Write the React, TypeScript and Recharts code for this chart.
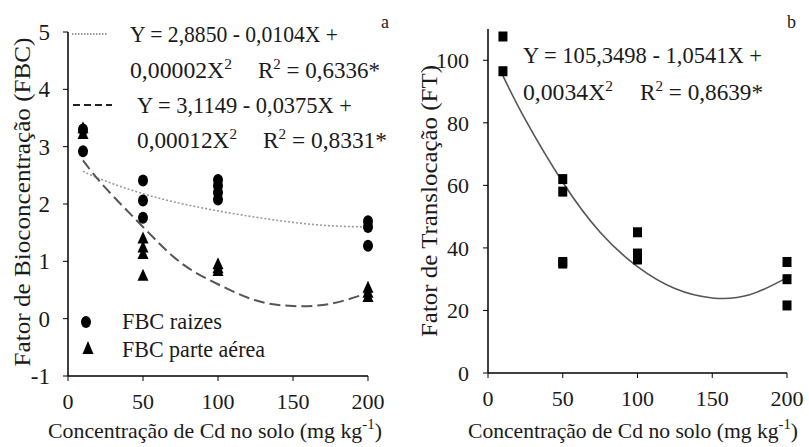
import React from "react";
import {
  ComposedChart,
  Scatter,
  Line,
  XAxis,
  YAxis,
} from "recharts";

// dose de Cd (mg kg-1) e valores
const raizesDose = [10, 10, 50, 50, 50, 100, 100, 100, 100, 200, 200, 200];
const raizesFBC = [3.3, 2.92, 2.41, 2.06, 1.76, 2.42, 2.32, 2.2, 2.08, 1.7, 1.6, 1.27];

const aereaDose = [10, 10, 50, 50, 50, 50, 100, 100, 100, 200, 200, 200];
const aereaFBC = [3.32, 3.22, 1.4, 1.24, 1.13, 0.75, 0.95, 0.88, 0.83, 0.54, 0.45, 0.38];

const ftDose = [10, 10, 50, 50, 50, 50, 100, 100, 100, 200, 200, 200];
const ftValores = [107.6, 96.5, 62, 58, 35.5, 35, 45, 38.2, 36.3, 35.5, 30, 21.6];

// curvas ajustadas
const curvaDose = [10, 25, 50, 75, 100, 125, 150, 175, 200];
const raizesAjuste = [2.57, 2.4, 2.18, 2.01, 1.88, 1.77, 1.68, 1.62, 1.6];
const aereaAjuste = [2.76, 2.28, 1.6, 0.98, 0.6, 0.32, 0.22, 0.26, 0.45];
const ftAjuste = [95, 81, 61, 45, 34, 27, 24, 25, 30.5];

const xTicks = [0, 50, 100, 150, 200];
const fbcTicks = [-1, 0, 1, 2, 3, 4, 5];
const ftTicks = [0, 20, 40, 60, 80, 100];

const zip = (xs: number[], ys: number[]) => xs.map((x, i) => ({ x, y: ys[i] }));

const raizesData = zip(raizesDose, raizesFBC);
const aereaData = zip(aereaDose, aereaFBC);
const ftData = zip(ftDose, ftValores);
const raizesCurva = zip(curvaDose, raizesAjuste);
const aereaCurva = zip(curvaDose, aereaAjuste);
const ftCurva = zip(curvaDose, ftAjuste);

const FONT = "Liberation Serif";
const INK = "#1a1a1a";

const YTick = (size: number) => (props: any) => {
  const { x, y, payload } = props;
  return (
    <text x={x} y={y} textAnchor="end" dy="0.35em" fontFamily={FONT} fontSize={size} fill={INK}>
      {payload.value}
    </text>
  );
};

const XTick = (props: any) => {
  const { x, y, payload } = props;
  return (
    <text x={x} y={y} textAnchor="middle" dy="0.71em" fontFamily={FONT} fontSize={22} fill={INK}>
      {payload.value}
    </text>
  );
};

const Dot = (props: any) => (
  <ellipse cx={props.cx} cy={props.cy} rx={5} ry={6} fill="#000" />
);

const Tri = (props: any) => {
  const { cx, cy } = props;
  return <polygon points={`${cx},${cy - 7} ${cx - 5.5},${cy + 5} ${cx + 5.5},${cy + 5}`} fill="#000" />;
};

const Sq = (props: any) => (
  <rect x={props.cx - 4.5} y={props.cy - 5} width={9} height={10} fill="#000" />
);

const T = ({ x, y, w, size = 23, children, anchor = "start" }: any) => (
  <text
    x={x}
    y={y}
    fontFamily={FONT}
    fontSize={size}
    fill={INK}
    textAnchor={anchor}
    textLength={w}
    lengthAdjust="spacingAndGlyphs"
  >
    {children}
  </text>
);

const Sup = ({ children }: any) => (
  <tspan dy={-9} fontSize={15}>{children}</tspan>
);

const Back = ({ children }: any) => <tspan dy={9}>{children}</tspan>;

export default function App() {
  return (
    <div style={{ position: "absolute", left: 0, top: 0, width: 809, height: 447, background: "#fff" }}>
      <div style={{ position: "absolute", left: 0, top: 0 }}>
        <ComposedChart width={400} height={447} margin={{ top: 32, right: 32, bottom: 41, left: 0 }}>
          <XAxis
            type="number"
            dataKey="x"
            domain={[0, 200]}
            ticks={xTicks}
            height={30}
            tickSize={5}
            tickMargin={12}
            tick={XTick}
            axisLine={{ stroke: "#000", strokeWidth: 1.5 }}
            tickLine={{ stroke: "#000" }}
          />
          <YAxis
            type="number"
            domain={[-1, 5]}
            ticks={fbcTicks}
            width={68}
            tickSize={5}
            tickMargin={13}
            tick={YTick(23)}
            axisLine={{ stroke: "#000", strokeWidth: 1.5 }}
            tickLine={{ stroke: "#000" }}
          />
          <Line
            data={raizesCurva}
            dataKey="y"
            type="natural"
            stroke="#9a9a9a"
            strokeWidth={1.6}
            strokeDasharray="2 2"
            dot={false}
            isAnimationActive={false}
          />
          <Line
            data={aereaCurva}
            dataKey="y"
            type="natural"
            stroke="#555"
            strokeWidth={2}
            strokeDasharray="11 5"
            dot={false}
            isAnimationActive={false}
          />
          <Scatter name="FBC raizes" data={raizesData} dataKey="y" shape={Dot} isAnimationActive={false} />
          <Scatter name="FBC parte aérea" data={aereaData} dataKey="y" shape={Tri} isAnimationActive={false} />
        </ComposedChart>
      </div>

      <div style={{ position: "absolute", left: 400, top: 0 }}>
        <ComposedChart width={409} height={447} margin={{ top: 29, right: 22, bottom: 44, left: 0 }}>
          <XAxis
            type="number"
            dataKey="x"
            domain={[0, 200]}
            ticks={xTicks}
            height={30}
            tickSize={5}
            tickMargin={12}
            tick={XTick}
            axisLine={{ stroke: "#000", strokeWidth: 1.5 }}
            tickLine={{ stroke: "#000" }}
          />
          <YAxis
            type="number"
            domain={[0, 110]}
            ticks={ftTicks}
            width={88}
            tickSize={5}
            tickMargin={14}
            tick={YTick(22)}
            axisLine={{ stroke: "#000", strokeWidth: 1.5 }}
            tickLine={{ stroke: "#000" }}
          />
          <Line
            data={ftCurva}
            dataKey="y"
            type="natural"
            stroke="#555"
            strokeWidth={1.6}
            dot={false}
            isAnimationActive={false}
          />
          <Scatter name="FT" data={ftData} dataKey="y" shape={Sq} isAnimationActive={false} />
        </ComposedChart>
      </div>

      <svg width={809} height={447} style={{ position: "absolute", left: 0, top: 0, pointerEvents: "none" }}>
        {/* legenda dos símbolos */}
        <ellipse cx={86} cy={322} rx={5} ry={6} fill="#000" />
        <T x={122} y={329} w={100}>FBC raizes</T>
        <polygon points="88,341 82.5,354 93.5,354" fill="#000" />
        <T x={122} y={357} w={143}>FBC parte aérea</T>

        {/* chaves das curvas */}
        <line x1={72} y1={34} x2={107} y2={34} stroke="#777" strokeWidth={1.5} strokeDasharray="1.5 1.5" />
        <line x1={73} y1={105} x2={112} y2={105} stroke="#222" strokeWidth={1.8} strokeDasharray="7 4" />

        <T x={130} y={42} w={208}>Y = 2,8850 - 0,0104X +</T>
        <T x={130} y={78} w={102}>0,00002X<Sup>2</Sup></T>
        <T x={258} y={78} w={122}>R<Sup>2</Sup><Back> = 0,6336*</Back></T>
        <T x={137} y={113} w={215}>Y = 3,1149 - 0,0375X +</T>
        <T x={137} y={148} w={100}>0,00012X<Sup>2</Sup></T>
        <T x={263} y={148} w={124}>R<Sup>2</Sup><Back> = 0,8331*</Back></T>
        <T x={381} y={28} size={18}>a</T>

        <T x={523} y={63} w={239}>Y = 105,3498 - 1,0541X +</T>
        <T x={523} y={100} w={90}>0,0034X<Sup>2</Sup></T>
        <T x={640} y={100} w={123}>R<Sup>2</Sup><Back> = 0,8639*</Back></T>
        <T x={787} y={28} size={18}>b</T>

        <T x={48} y={438} w={334} size={22}>
          Concentração de Cd no solo (mg kg<Sup>-1</Sup><Back>)</Back>
        </T>
        <T x={468} y={438} w={330} size={22}>
          Concentração de Cd no solo (mg kg<Sup>-1</Sup><Back>)</Back>
        </T>

        <g transform="translate(30,202) rotate(-90)">
          <T x={0} y={0} w={329} size={23} anchor="middle">
            Fator de Bioconcentração (FBC)
          </T>
        </g>
        <g transform="translate(437,201) rotate(-90)">
          <T x={0} y={0} w={272} size={23} anchor="middle">
            Fator de Translocação (FT)
          </T>
        </g>
      </svg>
    </div>
  );
}
